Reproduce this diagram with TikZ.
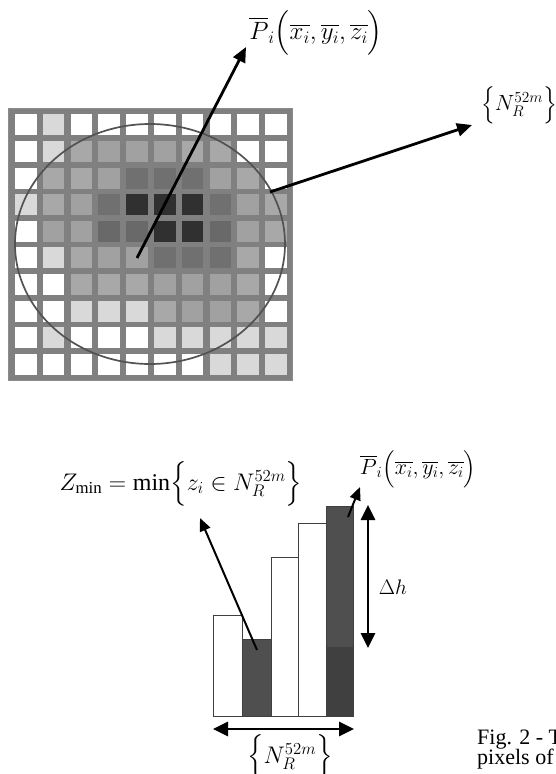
\documentclass[tikz,border=0pt]{standalone}
\usepackage{fix-cm}
\usepackage{amsmath}
\usepackage{fontspec}
\setmainfont{Liberation Serif}
\usetikzlibrary{arrows.meta}
\colorlet{grw}{white}
\colorlet{grl}{black!15}
\colorlet{grm}{black!34}
\colorlet{grn}{black!37}
\colorlet{grd}{black!56}
\colorlet{gre}{black!59}
\colorlet{grk}{black!81}
\tikzset{
  gridbg/.style={fill=black!50, draw=black!45, line width=0.8pt},
  ring/.style={draw=black!68, line width=1.7pt},
  bigarrow/.style={line width=2.8pt, -{Triangle[length=15pt,width=13pt]}},
  thinarrow/.style={line width=2pt, -{Triangle[length=13pt,width=11pt]}},
  dblarrow/.style={line width=2.8pt, {Triangle[length=15pt,width=14pt]}-{Triangle[length=15pt,width=14pt]}},
  bar/.style={draw=black!75, line width=1pt},
  lbl/.style={inner sep=0pt},
}
\begin{document}
\begin{tikzpicture}[x=1pt,y=-1pt]
\clip (0,0) rectangle (556,774);
\fill[white] (0,0) rectangle (556,774);
% grid
\draw[gridbg] (8.5,108) rectangle (292,380);
\foreach \row [count=\r] in {
 {grw,grl,grw,grw,grw,grw,grw,grw,grw,grw},
 {grw,grl,grm,grn,grn,grn,grm,grm,grw,grw},
 {grw,grm,grm,grn,grd,grd,grd,grn,grm,grw},
 {grl,grm,grn,grd,grk,grk,grk,grd,grn,grm},
 {grw,grn,grn,gre,gre,grk,grk,gre,grn,grm},
 {grw,grl,grm,grn,grn,grd,grd,grd,grm,grw},
 {grw,grw,grm,grm,grm,grn,grn,grn,grm,grw},
 {grw,grw,grl,grl,grl,grm,grn,grn,grm,grw},
 {grw,grl,grw,grw,grw,grl,grl,grl,grl,grl},
 {grw,grw,grw,grw,grw,grw,grw,grl,grl,grl}} {
  \foreach \c [count=\k] in \row {
    \fill[fill=\c] ({15+27.8*(\k-1)},{114.3+26.6*(\r-1)}) rectangle ++(21.5,21);
  }
}
% ellipse
\draw[ring] (150,244) ellipse [x radius=135, y radius=120];
\coordinate (pi) at (137,258);
\coordinate (rim) at (270,192);
% top labels
\node[lbl] (ptop) at (316,33) {\fontsize{25}{27}\selectfont $\overline{P}_i\Bigl(\overline{x_i},\overline{y_i},\overline{z_i}\Bigr)$};
\node[lbl] (ntop) at (519,105) {\fontsize{22}{24}\selectfont $\Bigl\{N_R^{52m}\Bigr\}$};
\coordinate (ttip) at (246,47);
\coordinate (ntip) at (472,125);
\draw[bigarrow] (pi) -- (ttip);
\draw[bigarrow] (rim) -- (ntip);
% bars
\draw[bar, fill=white] (213,615) rectangle (242,716);
\draw[bar, fill=black!69] (242,639) rectangle (271,716);
\draw[bar, fill=white] (271,557) rectangle (298,716);
\draw[bar, fill=white] (298,523) rectangle (326,716);
\draw[bar, fill=black!69] (326,506) rectangle (353,647);
\draw[bar, fill=black!75] (326,647) rectangle (353,716);
% bottom labels
\node[lbl] (zmin) at (181,484) {\fontsize{24}{26}\selectfont $Z_{\min}=\min\Bigl\{z_i\in N_R^{52m}\Bigr\}$};
\node[lbl] (pbot) at (418,469) {\fontsize{22}{24}\selectfont $\overline{P}_i\Bigl(\overline{x_i},\overline{y_i},\overline{z_i}\Bigr)$};
\node[lbl] (dh) at (393,587) {\fontsize{21}{23}\selectfont $\Delta h$};
\node[lbl] (nbot) at (290,757) {\fontsize{24}{26}\selectfont $\Bigl\{N_R^{52m}\Bigr\}$};
\coordinate (minpt) at (257,650);
\coordinate (mintip) at (200,518);
\coordinate (topbar) at (348,517);
\coordinate (ptip) at (360,487);
\coordinate (dhtop) at (368,505);
\coordinate (dhbot) at (368,648);
\coordinate (hl) at (213,729);
\coordinate (hr) at (354,729);
\draw[thinarrow] (minpt) -- (mintip);
\draw[thinarrow] (topbar) -- (ptip);
\draw[dblarrow] (dhtop) -- (dhbot);
\draw[dblarrow] (hl) -- (hr);
% caption
\node[lbl, anchor=base west] (cap1) at (477,744) {\fontsize{22}{24}\selectfont Fig. 2 - T};
\node[lbl, anchor=base west] (cap2) at (477,764) {\fontsize{22}{24}\selectfont pixels of};
\end{tikzpicture}
\end{document}
